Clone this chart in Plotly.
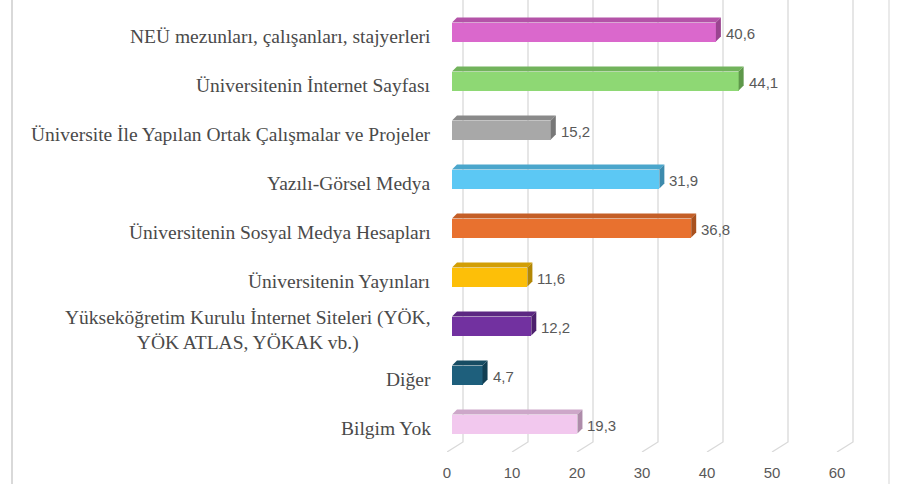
import plotly.graph_objects as go

categories = [
    "NEÜ mezunları, çalışanları, stajyerleri",
    "Üniversitenin İnternet Sayfası",
    "Üniversite İle Yapılan Ortak Çalışmalar ve Projeler",
    "Yazılı-Görsel Medya",
    "Üniversitenin Sosyal Medya Hesapları",
    "Üniversitenin Yayınları",
    "Yükseköğretim Kurulu İnternet Siteleri (YÖK,<br>YÖK ATLAS, YÖKAK vb.)",
    "Diğer",
    "Bilgim Yok",
]
values = [40.6, 44.1, 15.2, 31.9, 36.8, 11.6, 12.2, 4.7, 19.3]
front_colors = ["#DA68CC", "#8ED874", "#A8A8A8", "#5CC8F4", "#E8712F",
                "#FDBF08", "#7231A0", "#1E5F7C", "#F2C8EE"]
top_colors = ["#B453A8", "#72B35C", "#8A8A8A", "#4AA6CC", "#C45E26",
              "#D29E05", "#5C2782", "#174C63", "#CDA7C9"]
side_colors = ["#9A4490", "#5E984A", "#777777", "#3D8BAD", "#A8511F",
               "#B38704", "#4D206D", "#123F53", "#AE8CAA"]
x_ticks = [0, 10, 20, 30, 40, 50, 60]

# geometry (data units)
PX = 6.5          # pixels per x unit
PY = 49.0         # pixels per category
base = 5 / PX     # bars sit slightly behind the front floor edge
bar_h = 19 / PY
ddx = 5 / PX      # bar depth (oblique)
ddy = 5 / PY
gdx = 16 / PX     # floor depth for gridlines
gdy = 10 / PY
y_top = -32 / PY
y_bot = y_top + 452 / PY
x_min = 0
x_max = 458 / PX
L = 447           # left margin in px
W = 458           # plot width in px

fig = go.Figure()

# back-wall gridlines and floor diagonals (below the bars)
for t in x_ticks:
    fig.add_shape(type="path", xref="x", yref="y", layer="below",
                  path=f"M {t},{y_bot} L {t + gdx},{y_bot - gdy} L {t + gdx},{y_top}",
                  line=dict(color="#D9D9D9", width=1.3))

for i, (v, fc, tc, sc) in enumerate(zip(values, front_colors, top_colors, side_colors)):
    y0 = i - bar_h / 2
    y1 = i + bar_h / 2
    # front face
    fig.add_trace(go.Bar(
        y=[i], x=[v], base=[base], orientation="h", width=bar_h,
        marker=dict(color=fc, line=dict(width=0)),
        hoverinfo="skip", showlegend=False))
    # top face
    fig.add_trace(go.Scatter(
        x=[base, base + ddx, base + v + ddx, base + v, base],
        y=[y0, y0 - ddy, y0 - ddy, y0, y0],
        fill="toself", fillcolor=tc, mode="lines", line=dict(width=0, color=tc),
        hoverinfo="skip", showlegend=False))
    # side face
    fig.add_trace(go.Scatter(
        x=[base + v, base + v + ddx, base + v + ddx, base + v, base + v],
        y=[y0, y0 - ddy, y1 - ddy, y1, y0],
        fill="toself", fillcolor=sc, mode="lines", line=dict(width=0, color=sc),
        hoverinfo="skip", showlegend=False))
    # value label
    fig.add_annotation(
        x=base + v + ddx, y=i, xref="x", yref="y",
        text=f"{v:.1f}".replace(".", ","), showarrow=False,
        xanchor="left", yanchor="middle", xshift=3, yshift=-1,
        font=dict(family="Liberation Sans, Arial, sans-serif", size=15, color="#595959"))

# category labels
for i, c in enumerate(categories):
    fig.add_annotation(
        x=-14 / W, y=i + 4 / PY, xref="paper", yref="y", text=c,
        showarrow=False, xanchor="right", yanchor="middle", align="center",
        font=dict(family="'Liberation Serif', 'Times New Roman', serif", size=19.5, color="#4A4A4A"))

# frame lines
fig.add_shape(type="line", xref="paper", yref="paper",
              x0=(12 - L) / W, x1=(12 - L) / W, y0=-32 / 452, y1=1,
              line=dict(color="#D9D9D9", width=2))
fig.add_shape(type="line", xref="paper", yref="paper",
              x0=(889 - L) / W, x1=(889 - L) / W, y0=-32 / 452, y1=1,
              line=dict(color="#E3E3E3", width=1.5))

fig.update_layout(
    width=905, height=484,
    margin=dict(l=L, r=0, t=0, b=32),
    paper_bgcolor="white", plot_bgcolor="white",
    bargap=0, barmode="overlay",
    xaxis=dict(range=[x_min, x_max], tickvals=x_ticks,
               ticktext=[str(t) for t in x_ticks],
               showgrid=False, zeroline=False, showline=False, ticks="",
               ticklabelstandoff=10,
               tickfont=dict(family="Liberation Sans, Arial, sans-serif", size=15, color="#595959")),
    yaxis=dict(range=[y_bot, y_top], showgrid=False, zeroline=False,
               showline=False, showticklabels=False, ticks=""),
)

fig.write_html("out.html")
